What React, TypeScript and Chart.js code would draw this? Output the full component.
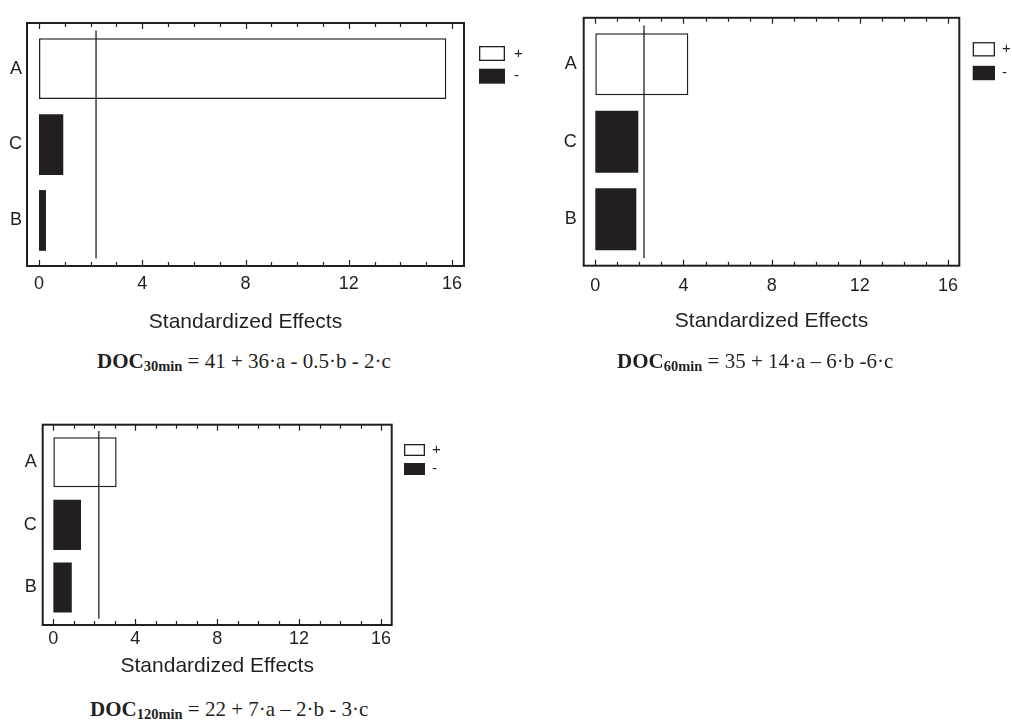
import React, { useEffect, useRef } from "react";
import { Chart, registerables } from "chart.js";

Chart.register(...registerables);

// Factor names, listed from the bottom row of the plot to the top row
const factorLabels = ["B", "C", "A"];
// Labelled values on the horizontal axis and spacing of the small tick marks
const xTickValues = [0, 4, 8, 12, 16];
const minorTickStep = 1;
const legendLabels = ["+", "-"];

// Absolute standardized effects and their signs (same order as factorLabels)
const effects30 = [0.27, 0.94, 15.78];
const signs30 = ["-", "-", "+"];
const effects60 = [1.86, 1.95, 4.22];
const signs60 = ["-", "-", "+"];
const effects120 = [0.9, 1.35, 3.09];
const signs120 = ["-", "-", "+"];

// Critical t-value (significance line)
const critical30 = 2.21;
const critical60 = 2.21;
const critical120 = 2.22;

const INK = "#231f20";
const SANS = "'Liberation Sans', Arial, Helvetica, sans-serif";
const SERIF = "'Liberation Serif', 'Times New Roman', serif";

type Frame = { l: number; t: number; r: number; b: number };
type LegendOpts = { dx: number; dy: number; w: number; h: number; pitch: number; gap: number; font: number };
type PanelCfg = {
  left: number;
  top: number;
  width: number;
  height: number;
  frame: Frame;
  titleY: number;
  xPad: number;
  yPad: number;
  xMin: number;
  xMax: number;
  effects: number[];
  signs: string[];
  critical: number;
  legend: LegendOpts;
};

const frameTicks = {
  id: "frameTicks",
  afterDatasetsDraw(chart: any) {
    const { ctx, chartArea: a, scales } = chart;
    const xs = scales.x;
    const last = xTickValues[xTickValues.length - 1];
    ctx.save();
    ctx.strokeStyle = INK;
    ctx.lineWidth = 1.2;
    for (let v = xTickValues[0]; v <= last + 1e-9; v += minorTickStep) {
      const px = Math.round(xs.getPixelForValue(v)) + 0.5;
      const len = xTickValues.includes(v) ? 6 : 4;
      ctx.beginPath();
      ctx.moveTo(px, a.bottom);
      ctx.lineTo(px, a.bottom - len);
      ctx.moveTo(px, a.top);
      ctx.lineTo(px, a.top + len);
      ctx.stroke();
    }
    ctx.lineWidth = 2;
    ctx.strokeRect(a.left, a.top, a.right - a.left, a.bottom - a.top);
    ctx.restore();
  },
};

const effLegend = {
  id: "effLegend",
  afterDraw(chart: any, _args: any, opts: any) {
    const { ctx, chartArea } = chart;
    const bars = chart.data.datasets.filter((d: any) => d.type === "bar");
    ctx.save();
    bars.forEach((ds: any, k: number) => {
      const x = chartArea.right + opts.dx;
      const y = chartArea.top + opts.dy + k * opts.pitch;
      ctx.fillStyle = ds.backgroundColor;
      ctx.fillRect(x, y, opts.w, opts.h);
      if (ds.borderWidth) {
        ctx.lineWidth = 1.3;
        ctx.strokeStyle = ds.borderColor;
        ctx.strokeRect(x + 0.65, y + 0.65, opts.w - 1.3, opts.h - 1.3);
      }
      ctx.fillStyle = INK;
      ctx.font = `${opts.font}px ${SANS}`;
      ctx.textBaseline = "middle";
      ctx.textAlign = "left";
      ctx.fillText(ds.label, x + opts.w + opts.gap, y + opts.h / 2);
    });
    ctx.restore();
  },
};

function buildDatasets(effects: number[], signs: string[], critical: number) {
  const pos: { x: number; y: number }[] = [];
  const neg: { x: number; y: number }[] = [];
  effects.forEach((v, i) => {
    (signs[i] === "+" ? pos : neg).push({ x: v, y: i });
  });
  const barCommon = {
    type: "bar",
    grouped: false,
    barPercentage: 0.8,
    categoryPercentage: 1,
    order: 1,
  };
  return [
    {
      type: "line",
      label: "t",
      data: [
        { x: critical, y: -0.5 },
        { x: critical, y: factorLabels.length - 0.5 },
      ],
      borderColor: INK,
      borderWidth: 1.3,
      pointRadius: 0,
      fill: false,
      order: 0,
    },
    {
      ...barCommon,
      label: legendLabels[0],
      data: pos,
      backgroundColor: "#ffffff",
      borderColor: INK,
      borderWidth: 1.5,
      borderSkipped: false,
    },
    {
      ...barCommon,
      label: legendLabels[1],
      data: neg,
      backgroundColor: INK,
      borderWidth: 0,
    },
  ];
}

function EffectsPanel({ cfg }: { cfg: PanelCfg }) {
  const ref = useRef<HTMLCanvasElement | null>(null);

  useEffect(() => {
    if (!ref.current) return;
    const titleSize = 21;
    const titleLH = titleSize * 1.2;
    const scaleBottom = cfg.titleY + titleLH / 2;
    const f = cfg.frame;
    const chart = new Chart(ref.current, {
      type: "bar",
      data: { datasets: buildDatasets(cfg.effects, cfg.signs, cfg.critical) as any },
      plugins: [frameTicks, effLegend],
      options: {
        responsive: false,
        animation: false,
        indexAxis: "y",
        layout: {
          padding: {
            left: 0,
            top: f.t,
            right: cfg.width - f.r,
            bottom: cfg.height - scaleBottom,
          },
        },
        plugins: {
          legend: { display: false },
          tooltip: { enabled: false },
          title: { display: false },
          effLegend: cfg.legend,
        } as any,
        scales: {
          x: {
            type: "linear",
            min: cfg.xMin,
            max: cfg.xMax,
            offset: false,
            grid: { display: false, drawTicks: false },
            border: { display: false },
            afterBuildTicks: (s: any) => {
              s.ticks = xTickValues.map((v) => ({ value: v }));
            },
            afterFit: (s: any) => {
              s.height = scaleBottom - f.b;
            },
            ticks: {
              color: INK,
              padding: cfg.xPad,
              maxRotation: 0,
              autoSkip: false,
              font: { family: SANS, size: 18 },
            },
            title: {
              display: true,
              text: "Standardized Effects",
              color: INK,
              padding: 0,
              font: { family: SANS, size: titleSize },
            },
          },
          y: {
            type: "linear",
            min: -0.6,
            max: factorLabels.length - 0.4,
            offset: false,
            grid: { display: false, drawTicks: false, offset: false },
            border: { display: false },
            afterBuildTicks: (s: any) => {
              s.ticks = factorLabels.map((_, i) => ({ value: i }));
            },
            afterFit: (s: any) => {
              s.width = f.l;
            },
            ticks: {
              color: INK,
              padding: cfg.yPad,
              font: { family: SANS, size: 18 },
              callback: (v: any) => factorLabels[Math.round(Number(v))] ?? "",
            },
          },
        },
      } as any,
    });
    return () => chart.destroy();
  }, [cfg]);

  return (
    <canvas
      ref={ref}
      width={cfg.width}
      height={cfg.height}
      style={{
        position: "absolute",
        left: cfg.left,
        top: cfg.top,
        width: cfg.width,
        height: cfg.height,
      }}
    />
  );
}

const panel30: PanelCfg = {
  left: 0,
  top: 0,
  width: 540,
  height: 345,
  frame: { l: 27, t: 23, r: 464, b: 266 },
  titleY: 322,
  xPad: 7,
  yPad: 5,
  xMin: -0.465,
  xMax: 16.465,
  effects: effects30,
  signs: signs30,
  critical: critical30,
  legend: { dx: 15, dy: 23, w: 26, h: 15, pitch: 22.7, gap: 9, font: 15 },
};

const panel60: PanelCfg = {
  left: 520,
  top: 0,
  width: 492,
  height: 345,
  frame: { l: 63.7, t: 10, r: 439.3, b: 265.7 },
  titleY: 321.7,
  xPad: 10,
  yPad: 7,
  xMin: -0.526,
  xMax: 16.51,
  effects: effects60,
  signs: signs60,
  critical: critical60,
  legend: { dx: 13.4, dy: 24.3, w: 22.3, h: 14.4, pitch: 23.7, gap: 7, font: 15 },
};

const panel120: PanelCfg = {
  left: 0,
  top: 390,
  width: 470,
  height: 300,
  frame: { l: 42.7, t: 34.7, r: 391.7, b: 235 },
  titleY: 276.7,
  xPad: 3.5,
  yPad: 6,
  xMin: -0.52,
  xMax: 16.52,
  effects: effects120,
  signs: signs120,
  critical: critical120,
  legend: { dx: 12.3, dy: 19.3, w: 21, h: 12, pitch: 19, gap: 7, font: 15 },
};

function Equation({
  left,
  baseline,
  sub,
  rest,
}: {
  left: number;
  baseline: number;
  sub: string;
  rest: string;
}) {
  return (
    <div
      style={{
        position: "absolute",
        left,
        top: baseline - 17.6,
        fontFamily: SERIF,
        fontSize: 21,
        lineHeight: "21px",
        color: INK,
        whiteSpace: "pre",
      }}
    >
      <b>DOC</b>
      <b style={{ fontSize: 14.5, verticalAlign: -3 }}>{sub}</b>
      {rest}
    </div>
  );
}

export default function App() {
  return (
    <div
      style={{
        position: "absolute",
        left: 0,
        top: 0,
        width: 1012,
        height: 720,
        background: "#ffffff",
        overflow: "hidden",
      }}
    >
      <EffectsPanel cfg={panel30} />
      <EffectsPanel cfg={panel60} />
      <EffectsPanel cfg={panel120} />
      <Equation left={97} baseline={369} sub="30min" rest={" = 41 + 36·a - 0.5·b - 2·c"} />
      <Equation left={617} baseline={369} sub="60min" rest={" = 35 + 14·a – 6·b -6·c"} />
      <Equation left={90} baseline={717} sub="120min" rest={" = 22 + 7·a – 2·b - 3·c"} />
    </div>
  );
}
